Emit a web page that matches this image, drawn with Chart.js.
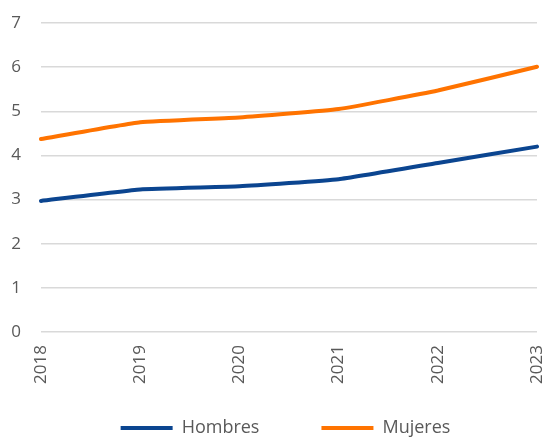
<!DOCTYPE html>
<html>
<head>
<meta charset="utf-8">
<script src="https://cdn.jsdelivr.net/npm/chart.js@4/dist/chart.umd.min.js"></script>
<style>
  html, body { margin: 0; padding: 0; background: #ffffff; }
  #wrap { width: 545px; height: 437px; }
</style>
</head>
<body>
<div id="wrap"><canvas id="c" width="545" height="437"></canvas></div>
<script>
// Years on the horizontal axis
const years = ['2018', '2019', '2020', '2021', '2022', '2023'];
// Series values
const hombres = [2.97, 3.23, 3.30, 3.46, 3.83, 4.20];
const mujeres = [4.37, 4.75, 4.86, 5.05, 5.47, 6.01];
// Vertical axis range
const yMin = 0;
const yMax = 7;
const yStep = 1;

const textColor = '#595959';
const fontFamily = "'Open Sans', 'Liberation Sans', sans-serif";

// Legend geometry: wide gap between entries, but a compact band at the bottom
const LEGEND_GAP = 62;
const LEGEND_HEIGHT = 40;
const LEGEND_ROW_Y = 428;
const LEGEND_SHIFT_X = 17;

const legendLayout = {
  id: 'legendLayout',
  afterInit(chart) {
    const lg = chart.legend;
    const baseFit = lg.fit.bind(lg);
    lg.fit = function () {
      baseFit();
      this.height = LEGEND_HEIGHT;
    };
  },
  afterLayout(chart) {
    const lg = chart.legend;
    const fontSize = lg.options.labels.font.size;
    lg.left += LEGEND_SHIFT_X;
    lg.right += LEGEND_SHIFT_X;
    lg.top = LEGEND_ROW_Y - LEGEND_GAP - fontSize / 2;
    lg.bottom = chart.height;
  }
};

new Chart(document.getElementById('c'), {
  type: 'line',
  data: {
    labels: years,
    datasets: [
      {
        label: 'Hombres',
        data: hombres,
        borderColor: '#0B4590',
        backgroundColor: '#0B4590',
        borderWidth: 4,
        pointRadius: 0,
        pointStyle: 'line',
        tension: 0.12,
        borderCapStyle: 'round'
      },
      {
        label: 'Mujeres',
        data: mujeres,
        borderColor: '#FF7300',
        backgroundColor: '#FF7300',
        borderWidth: 4,
        pointRadius: 0,
        pointStyle: 'line',
        tension: 0.12,
        borderCapStyle: 'round'
      }
    ]
  },
  options: {
    responsive: false,
    animation: false,
    layout: { padding: { top: 23, right: 8, left: 0, bottom: 0 } },
    plugins: {
      legend: {
        position: 'bottom',
        labels: {
          usePointStyle: true,
          pointStyleWidth: 52,
          boxHeight: 18,
          padding: LEGEND_GAP,
          color: textColor,
          font: { family: fontFamily, size: 18 }
        }
      },
      tooltip: { enabled: false }
    },
    scales: {
      x: {
        grid: { display: false, drawTicks: false },
        border: { display: false },
        ticks: {
          color: textColor,
          font: { family: fontFamily, size: 17 },
          maxRotation: 90,
          minRotation: 90,
          padding: 13
        },
        afterFit(scale) {
          scale.height = 65;
          scale.paddingLeft = 0;
          scale.paddingRight = 0;
        }
      },
      y: {
        min: yMin,
        max: yMax,
        ticks: {
          stepSize: yStep,
          color: textColor,
          font: { family: fontFamily, size: 17 },
          padding: 20
        },
        grid: { color: '#d9d9d9', lineWidth: 1.5, drawTicks: false },
        border: { display: false },
        afterFit(scale) {
          scale.width = 41;
          scale.paddingTop = 0;
          scale.paddingBottom = 0;
        }
      }
    }
  },
  plugins: [legendLayout]
});
</script>
</body>
</html>
